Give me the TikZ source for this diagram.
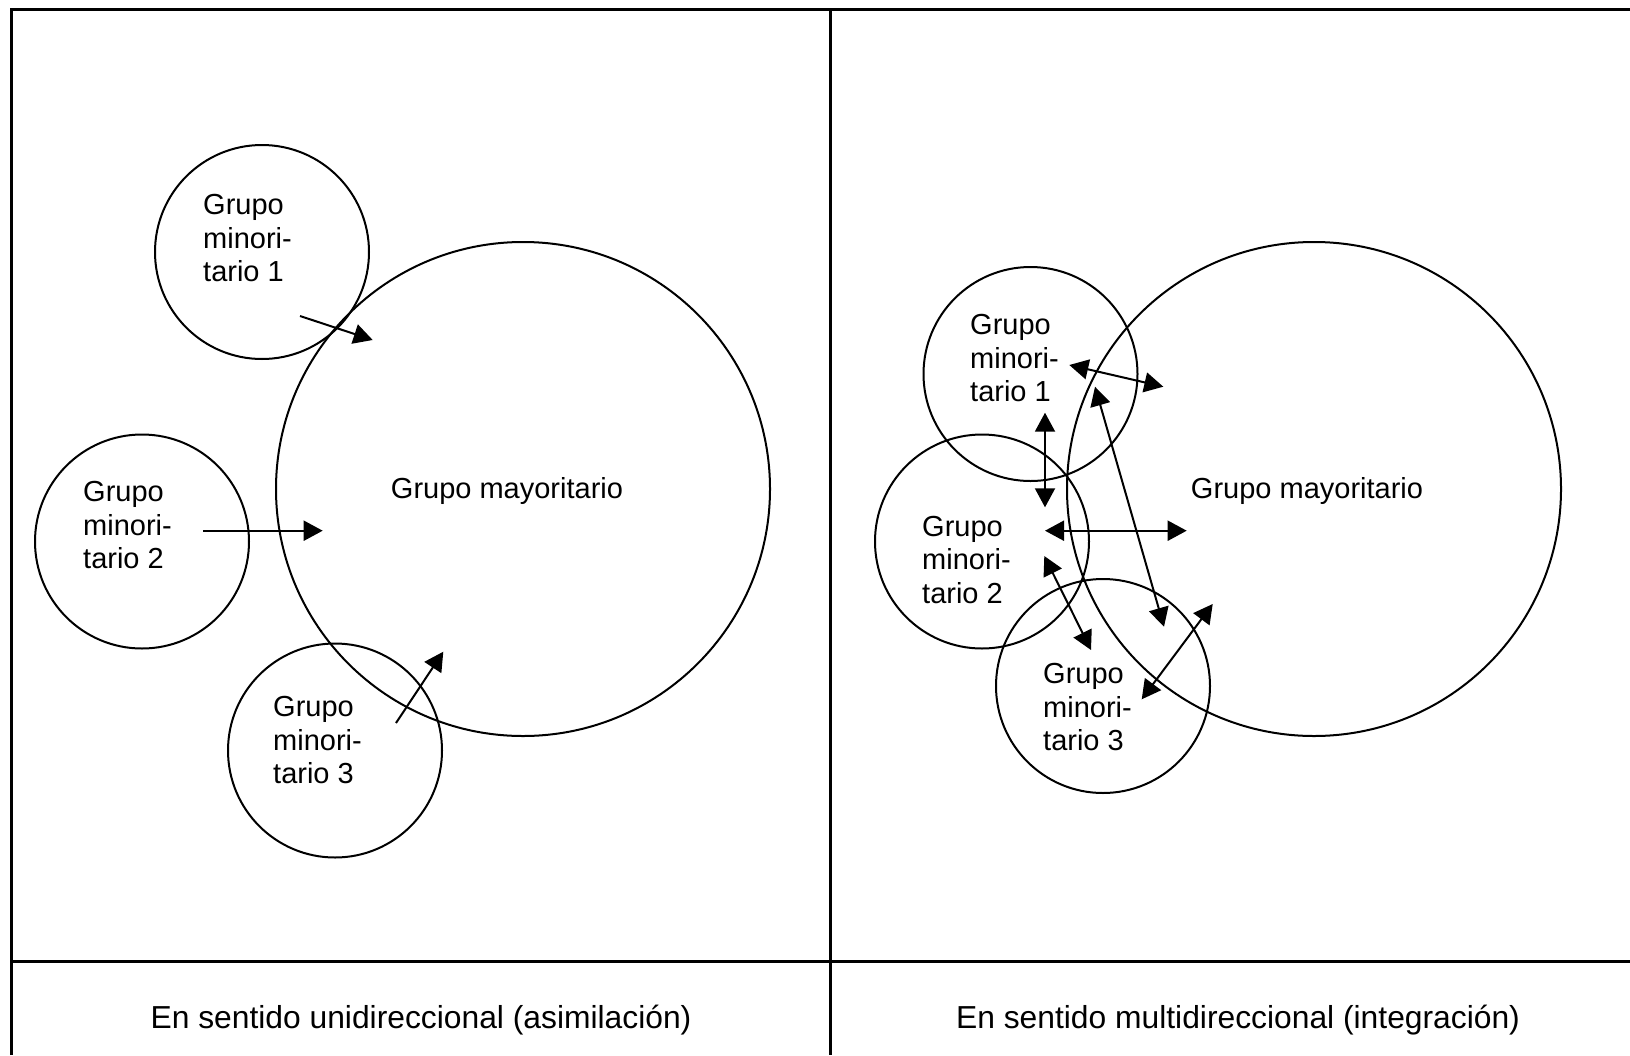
\documentclass[tikz,border=0pt]{standalone}
\usepackage{fontspec}
\setmainfont{Liberation Sans}
\usetikzlibrary{arrows.meta}
\begin{document}
\begin{tikzpicture}[x=1pt,y=-1pt,
  grp/.style={circle,draw,line width=2pt,inner sep=0pt,minimum size=214pt},
  bigc/.style={circle,draw,line width=2pt,inner sep=0pt,minimum size=494pt},
  lbl/.style={font=\fontsize{29}{33.5}\selectfont,align=left,inner sep=0pt,anchor=west},
  midlbl/.style={font=\fontsize{29}{33.5}\selectfont,inner sep=0pt},
  captxt/.style={font=\fontsize{31.8}{36}\selectfont,inner sep=0pt},
  frameline/.style={line width=3pt},
  tipT/.tip={Triangle[length=19pt,width=20pt]},
  uni/.style={line width=2pt,-tipT},
  bi/.style={line width=2pt,tipT-tipT}
]
\useasboundingbox (0,0) rectangle (1630,1055);

% frame
\draw[frameline] (11,1055) -- (11,9) -- (1630,9);
\draw[frameline] (830,9) -- (830,1055);
\draw[frameline] (11,961) -- (1630,961);

% ---------- left panel ----------
\node[bigc] (bigL) at (523,489) {};
\node[grp] (mL1) at (262,252) {};
\node[grp] (mL2) at (142,541.5) {};
\node[grp] (mL3) at (335,750.5) {};

\node[midlbl] (tbigL) at (507,490.5) {Grupo mayoritario};
\node[lbl] (tL1) at (203,238.5) {Grupo\\minori-\\tario 1};
\node[lbl] (tL2) at (83,525.5) {Grupo\\minori-\\tario 2};
\node[lbl] (tL3) at (273,740.5) {Grupo\\minori-\\tario 3};

\coordinate (aL1s) at (300,316);   \coordinate (aL1e) at (372.7,340);
\coordinate (aL2s) at (203,530.7); \coordinate (aL2e) at (322.7,530.7);
\coordinate (aL3s) at (396,723);   \coordinate (aL3e) at (443.3,651.7);
\draw[uni] (aL1s) -- (aL1e);
\draw[uni] (aL2s) -- (aL2e);
\draw[uni] (aL3s) -- (aL3e);

% ---------- right panel ----------
\node[bigc] (bigR) at (1314,489) {};
\node[grp] (mR1) at (1030.5,374) {};
\node[grp] (mR2) at (982,541.5) {};
\node[grp] (mR3) at (1103,686) {};

\node[midlbl] (tbigR) at (1307,490.5) {Grupo mayoritario};
\node[lbl] (tR1) at (970,358.5) {Grupo\\minori-\\tario 1};
\node[lbl] (tR2) at (922,560) {Grupo\\minori-\\tario 2};
\node[lbl] (tR3) at (1043,707.5) {Grupo\\minori-\\tario 3};

\coordinate (rA1) at (1069.3,365);  \coordinate (rA2) at (1163.3,386.7);
\coordinate (rB1) at (1045,412.7);  \coordinate (rB2) at (1045,507.3);
\coordinate (rC1) at (1095,386.7);  \coordinate (rC2) at (1164,626.7);
\coordinate (rD1) at (1045,530.7);  \coordinate (rD2) at (1186.7,530.7);
\coordinate (rE1) at (1044.3,556);  \coordinate (rE2) at (1091,650);
\coordinate (rF1) at (1212.7,604);  \coordinate (rF2) at (1141.7,699.3);
\draw[bi] (rA1) -- (rA2);
\draw[bi] (rB1) -- (rB2);
\draw[bi] (rC1) -- (rC2);
\draw[bi] (rD1) -- (rD2);
\draw[bi] (rE1) -- (rE2);
\draw[bi] (rF1) -- (rF2);

% ---------- captions ----------
\node[captxt] (capL) at (421,1019.6) {En sentido unidireccional (asimilación)};
\node[captxt] (capR) at (1238,1019.6) {En sentido multidireccional (integración)};
\end{tikzpicture}
\end{document}
